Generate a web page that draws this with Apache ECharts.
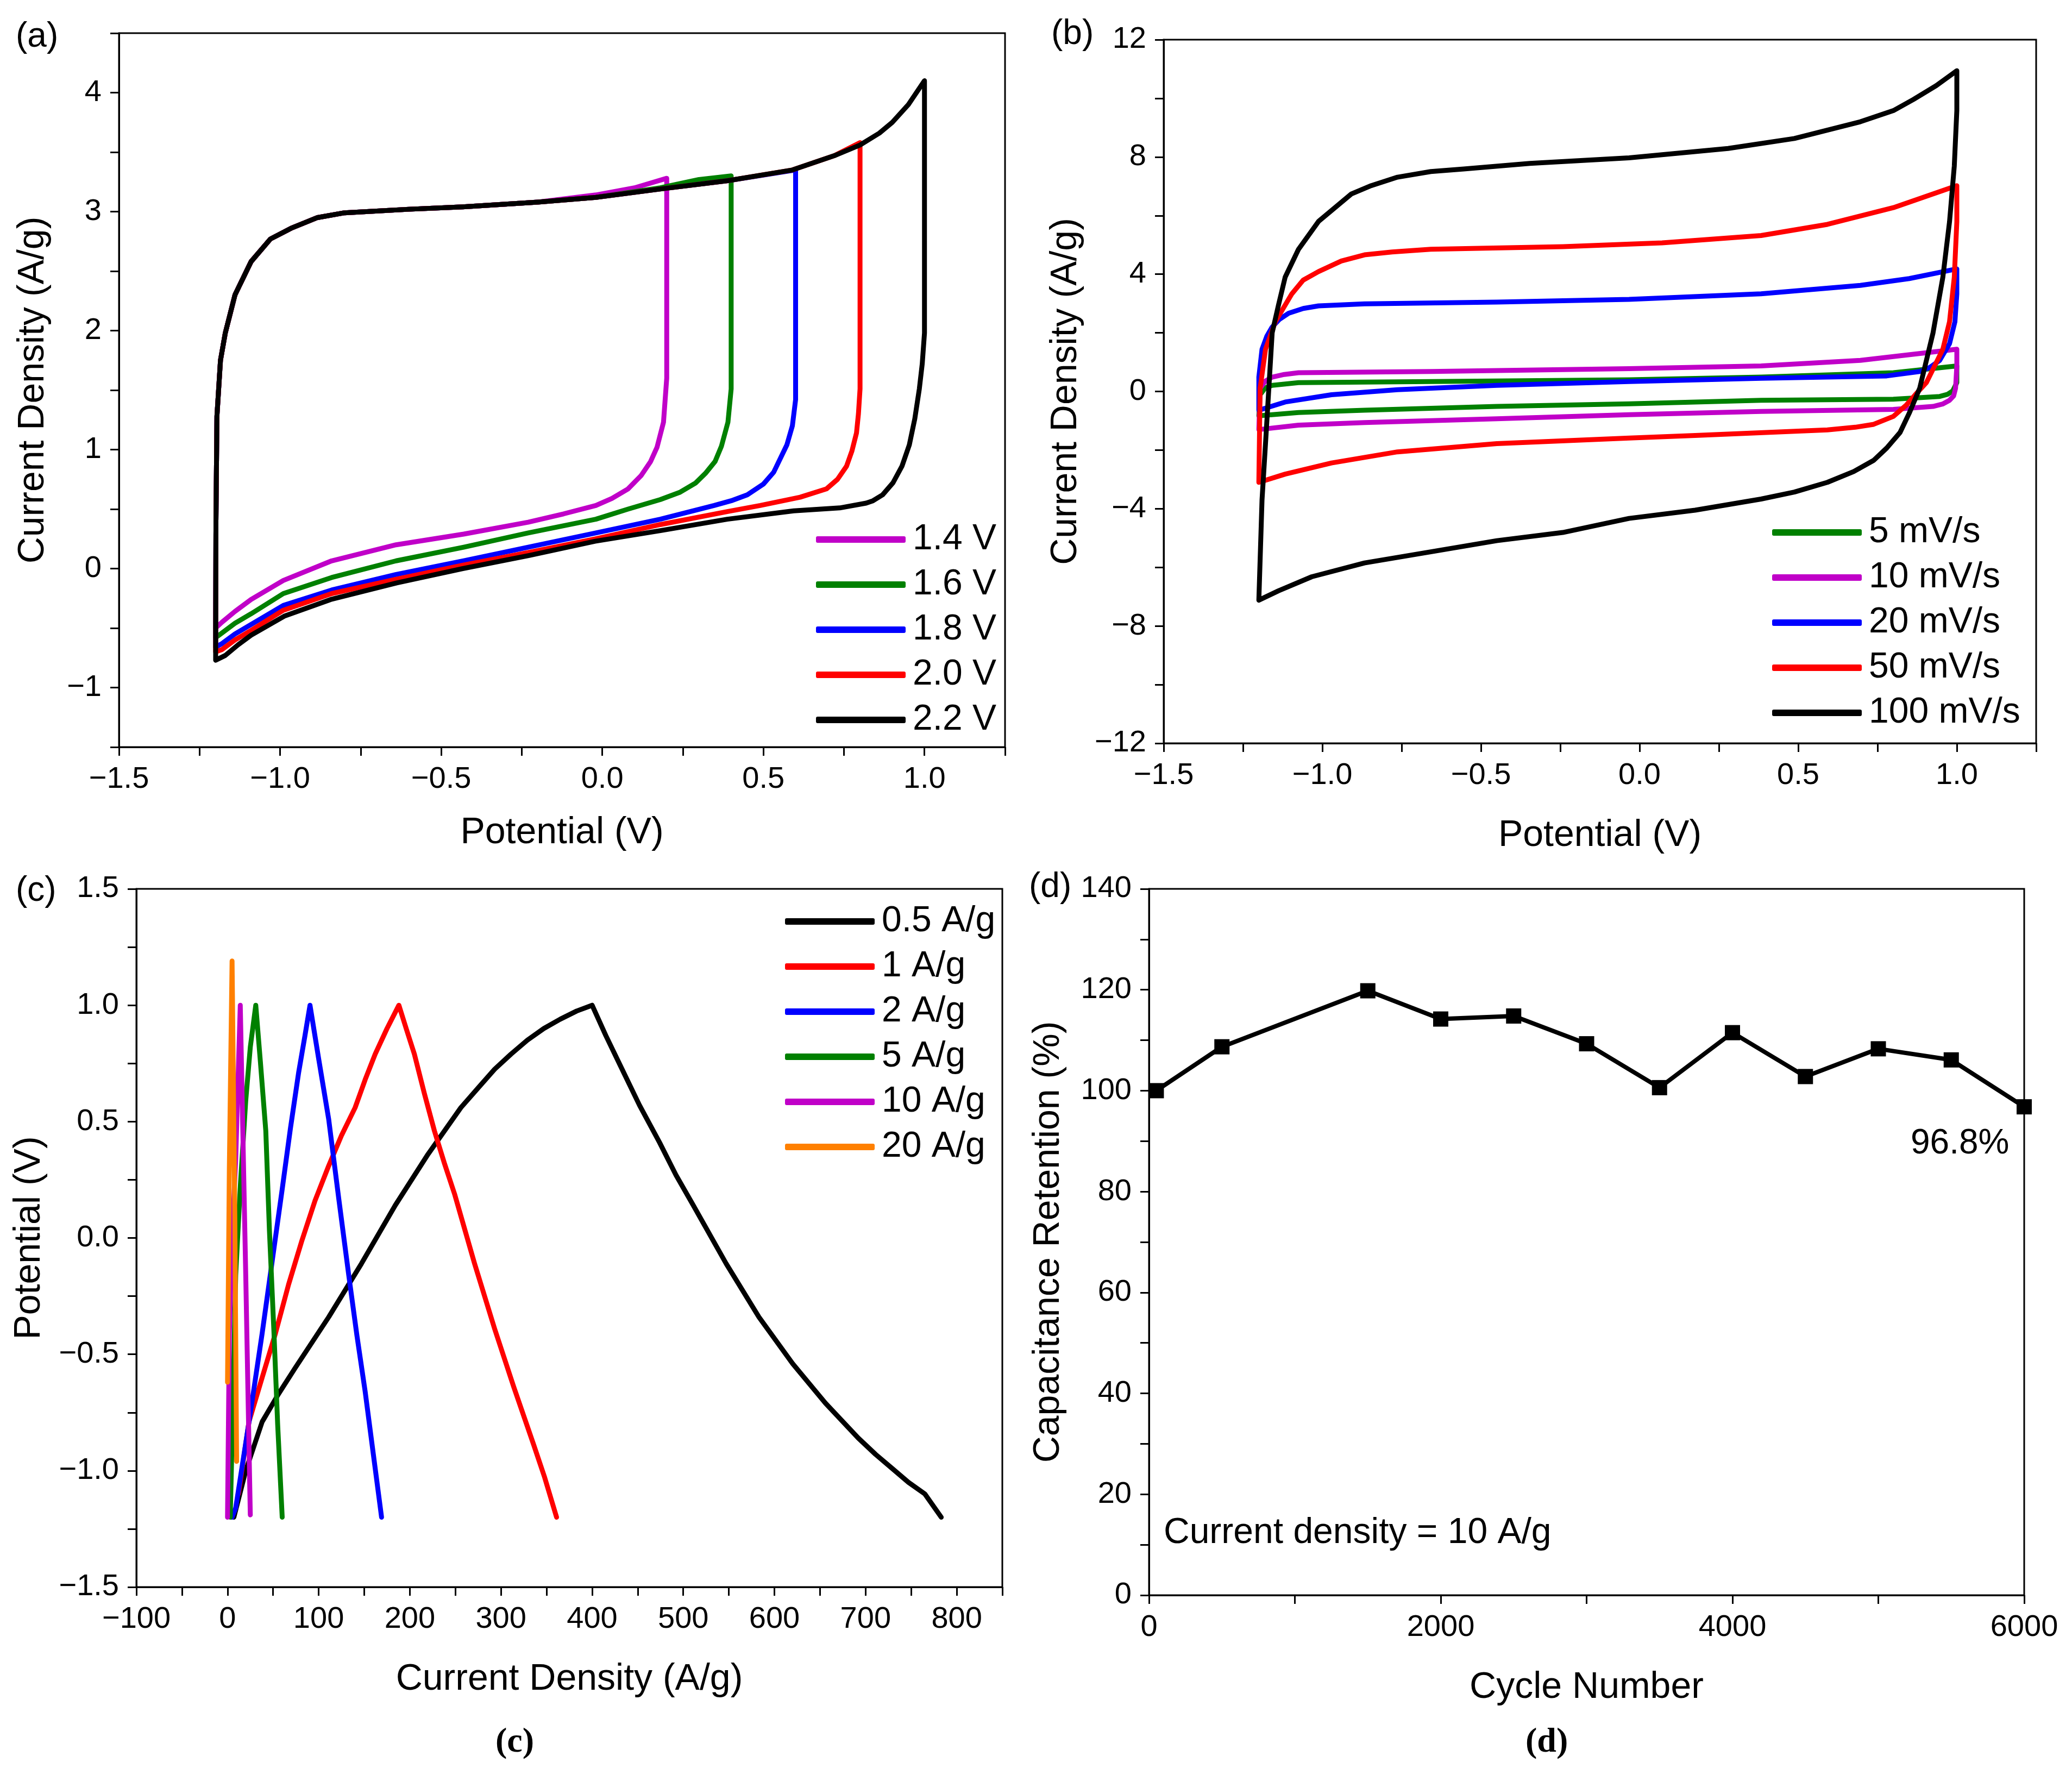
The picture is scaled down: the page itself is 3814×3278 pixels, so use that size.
<!DOCTYPE html>
<html>
<head>
    <meta charset="utf-8">
    <title>supercapacitor</title>
    <script src="https://cdn.jsdelivr.net/npm/echarts@6/dist/echarts.min.js"></script>
    <style>
        html, body { margin: 0; padding: 0; background: #fff; }
    </style>
</head>
<body>
    <div id="main" style="width: 3814px;height:3278px;"></div>
    <script type="text/javascript">
        var myChart = echarts.init(document.getElementById('main'));

        /*--------------------- (a) CV at different voltage windows ---------------------*/
        var aNames = ['1.4 V', '1.6 V', '1.8 V', '2.0 V', '2.2 V'];
        var aColors = ['#c000c8', '#008000', '#0000ff', '#ff0000', '#000000'];
        var a14 = [[-1.2, -0.5], [-1.199, 0.4], [-1.196, 1.28], [-1.185, 1.75], [-1.17, 1.98], [-1.14, 2.3], [-1.09, 2.58], [-1.03, 2.77], [-0.966, 2.86], [-0.884, 2.95], [-0.8, 2.99], [-0.6, 3.02], [-0.433, 3.04], [-0.2, 3.08], [-0.02, 3.14], [0.1, 3.2], [0.2, 3.28],
            [0.2, 2.5], [0.2, 1.6], [0.19, 1.23], [0.17, 1.02], [0.15, 0.9], [0.12, 0.78], [0.08, 0.67], [0.03, 0.59], [-0.02, 0.53], [-0.12, 0.46], [-0.23, 0.39], [-0.43, 0.29], [-0.64, 0.2], [-0.84, 0.065], [-0.99, -0.1], [-1.09, -0.26], [-1.14, -0.36], [-1.18, -0.45], [-1.2, -0.5]];
        var a16 = [[-1.2, -0.58], [-1.199, 0.4], [-1.196, 1.28], [-1.185, 1.75], [-1.17, 1.98], [-1.14, 2.3], [-1.09, 2.58], [-1.03, 2.77], [-0.966, 2.86], [-0.884, 2.95], [-0.8, 2.99], [-0.6, 3.02], [-0.433, 3.04], [-0.2, 3.08], [-0.02, 3.12], [0.18, 3.2], [0.3, 3.27], [0.4, 3.3],
            [0.4, 2.4], [0.4, 1.51], [0.39, 1.23], [0.37, 1.03], [0.35, 0.9], [0.32, 0.8], [0.29, 0.72], [0.24, 0.64], [0.18, 0.58], [0.08, 0.5], [-0.02, 0.415], [-0.23, 0.3], [-0.43, 0.18], [-0.64, 0.065], [-0.84, -0.075], [-0.99, -0.21], [-1.09, -0.38], [-1.14, -0.46], [-1.18, -0.54], [-1.2, -0.58]];
        var a18 = [[-1.2, -0.66], [-1.199, 0.4], [-1.196, 1.28], [-1.185, 1.75], [-1.17, 1.98], [-1.14, 2.3], [-1.09, 2.58], [-1.03, 2.77], [-0.966, 2.86], [-0.884, 2.95], [-0.8, 2.99], [-0.6, 3.02], [-0.433, 3.04], [-0.2, 3.08], [-0.02, 3.12], [0.18, 3.19], [0.39, 3.26], [0.6, 3.35],
            [0.6, 2.4], [0.6, 1.42], [0.59, 1.2], [0.573, 1.04], [0.532, 0.81], [0.5, 0.71], [0.45, 0.62], [0.4, 0.57], [0.347, 0.53], [0.18, 0.415], [-0.02, 0.3], [-0.23, 0.18], [-0.43, 0.065], [-0.64, -0.05], [-0.84, -0.18], [-0.99, -0.31], [-1.09, -0.47], [-1.14, -0.55], [-1.18, -0.63], [-1.2, -0.66]];
        var a20 = [[-1.2, -0.7], [-1.199, 0.4], [-1.196, 1.28], [-1.185, 1.75], [-1.17, 1.98], [-1.14, 2.3], [-1.09, 2.58], [-1.03, 2.77], [-0.966, 2.86], [-0.884, 2.95], [-0.8, 2.99], [-0.6, 3.02], [-0.433, 3.04], [-0.2, 3.08], [-0.02, 3.12], [0.18, 3.19], [0.39, 3.26], [0.59, 3.35], [0.72, 3.47], [0.8, 3.58],
            [0.8, 2.5], [0.8, 1.51], [0.795, 1.3], [0.789, 1.14], [0.775, 0.99], [0.758, 0.86], [0.73, 0.75], [0.696, 0.67], [0.614, 0.6], [0.49, 0.53], [0.39, 0.48], [0.18, 0.37], [-0.02, 0.25], [-0.23, 0.135], [-0.43, 0.03], [-0.64, -0.09], [-0.84, -0.21], [-0.99, -0.35], [-1.09, -0.52], [-1.14, -0.6], [-1.18, -0.68], [-1.2, -0.7]];
        var a22 = [[-1.2, -0.77], [-1.199, 0.4], [-1.196, 1.28], [-1.185, 1.75], [-1.17, 1.98], [-1.14, 2.3], [-1.09, 2.58], [-1.03, 2.77], [-0.966, 2.86], [-0.884, 2.95], [-0.8, 2.99], [-0.6, 3.02], [-0.433, 3.04], [-0.2, 3.08], [-0.02, 3.12], [0.18, 3.19], [0.39, 3.26], [0.59, 3.35], [0.72, 3.47], [0.8, 3.56], [0.86, 3.66], [0.9, 3.75], [0.95, 3.9], [1.0, 4.1],
            [1.0, 3.0], [1.0, 1.98], [0.993, 1.72], [0.984, 1.51], [0.97, 1.26], [0.953, 1.04], [0.93, 0.86], [0.902, 0.72], [0.87, 0.62], [0.84, 0.57], [0.819, 0.55], [0.737, 0.51], [0.594, 0.485], [0.388, 0.415], [0.183, 0.32], [-0.022, 0.23], [-0.227, 0.11], [-0.433, 0.0], [-0.638, -0.12], [-0.843, -0.26], [-0.987, -0.4], [-1.09, -0.56], [-1.13, -0.64], [-1.17, -0.73], [-1.2, -0.77]];
        var aData = [a14, a16, a18, a20, a22];

        /*--------------------- (b) CV at different scan rates ---------------------*/
        var bNames = ['5 mV/s', '10 mV/s', '20 mV/s', '50 mV/s', '100 mV/s'];
        var bColors = ['#008000', '#c000c8', '#0000ff', '#ff0000', '#000000'];
        var b5 = [[-1.2, -0.83], [-1.196, -0.11], [-1.18, 0.12], [-1.158, 0.21], [-1.075, 0.3], [-0.658, 0.34], [-0.033, 0.4], [0.383, 0.49], [0.8, 0.64], [1.0, 0.87],
            [1.0, 0.3], [0.987, 0.02], [0.97, -0.1], [0.946, -0.17], [0.8, -0.265], [0.383, -0.3], [-0.033, -0.42], [-0.45, -0.51], [-0.867, -0.64], [-1.075, -0.72], [-1.2, -0.83]];
        var b10 = [[-1.2, -1.3], [-1.196, 0.11], [-1.18, 0.35], [-1.158, 0.49], [-1.12, 0.58], [-1.075, 0.64], [-0.658, 0.68], [-0.033, 0.78], [0.383, 0.87], [0.696, 1.06], [1.0, 1.44],
            [1.0, 0.87], [0.996, 0.11], [0.99, -0.15], [0.977, -0.3], [0.955, -0.43], [0.925, -0.51], [0.8, -0.61], [0.383, -0.68], [-0.033, -0.79], [-0.45, -0.93], [-0.867, -1.06], [-1.075, -1.15], [-1.2, -1.3]];
        var b20 = [[-1.2, -0.64], [-1.2, 0.49], [-1.19, 1.44], [-1.175, 1.88], [-1.158, 2.2], [-1.135, 2.46], [-1.106, 2.67], [-1.06, 2.83], [-1.012, 2.92], [-0.867, 2.99], [-0.45, 3.05], [-0.033, 3.14], [0.383, 3.33], [0.696, 3.62], [0.85, 3.85], [1.0, 4.18],
            [1.0, 3.33], [0.994, 2.38], [0.977, 1.63], [0.946, 1.06], [0.915, 0.82], [0.883, 0.68], [0.779, 0.53], [0.383, 0.45], [-0.033, 0.34], [-0.45, 0.21], [-0.763, 0.06], [-0.971, -0.11], [-1.117, -0.36], [-1.2, -0.64]];
        var b50 = [[-1.2, -3.1], [-1.196, 0.11], [-1.179, 1.44], [-1.148, 2.38], [-1.096, 3.33], [-1.06, 3.8], [-1.012, 4.09], [-0.94, 4.45], [-0.867, 4.66], [-0.78, 4.76], [-0.658, 4.85], [-0.242, 4.94], [0.071, 5.07], [0.383, 5.32], [0.592, 5.7], [0.8, 6.27], [1.0, 7.02],
            [1.0, 5.79], [0.992, 3.9], [0.977, 2.38], [0.956, 1.44], [0.904, 0.3], [0.87, -0.1], [0.842, -0.45], [0.8, -0.85], [0.738, -1.12], [0.68, -1.22], [0.592, -1.31], [0.175, -1.5], [-0.033, -1.59], [-0.45, -1.78], [-0.763, -2.06], [-0.971, -2.44], [-1.117, -2.82], [-1.2, -3.1]];
        var b100 = [[-1.2, -7.12], [-1.19, -3.7], [-1.179, -1.78], [-1.158, 2.0], [-1.138, 2.95], [-1.117, 3.9], [-1.075, 4.85], [-1.012, 5.8], [-0.971, 6.17], [-0.908, 6.74], [-0.846, 7.02], [-0.763, 7.31], [-0.658, 7.5], [-0.554, 7.59], [-0.346, 7.78], [-0.033, 7.97], [0.279, 8.29], [0.488, 8.63], [0.696, 9.2], [0.8, 9.58], [0.863, 9.96], [0.935, 10.43], [1.0, 10.94],
            [1.0, 9.58], [0.992, 7.69], [0.977, 5.79], [0.956, 3.9], [0.925, 2.0], [0.883, 0.11], [0.85, -0.74], [0.821, -1.4], [0.779, -1.93], [0.738, -2.35], [0.675, -2.73], [0.592, -3.1], [0.488, -3.43], [0.383, -3.67], [0.175, -4.05], [-0.033, -4.33], [-0.242, -4.81], [-0.45, -5.09], [-0.658, -5.47], [-0.867, -5.85], [-1.033, -6.32], [-1.138, -6.8], [-1.2, -7.12]];
        var bData = [b5, b10, b20, b50, b100];

        /*--------------------- (c) GCD curves ---------------------*/
        var cNames = ['0.5 A/g', '1 A/g', '2 A/g', '5 A/g', '10 A/g', '20 A/g'];
        var cColors = ['#000000', '#ff0000', '#0000ff', '#008000', '#c000c8', '#ff8000'];
        var c05 = [[7, -1.2], [20, -1.0], [38, -0.79], [56, -0.67], [74, -0.56], [111, -0.34], [147, -0.11], [184, 0.14], [220, 0.36], [256, 0.56], [275, 0.645], [293, 0.725], [311, 0.79], [329, 0.85], [347, 0.9], [365, 0.94], [383, 0.975], [400, 1.0],
            [415, 0.87], [431, 0.74], [452, 0.57], [474, 0.41], [492, 0.27], [511, 0.14], [547, -0.11], [583, -0.34], [620, -0.54], [656, -0.71], [692, -0.86], [711, -0.93], [729, -0.99], [747, -1.05], [765, -1.1], [783, -1.2]];
        var c1 = [[12, -1.1], [23.5, -0.79], [38, -0.6], [52.6, -0.41], [67, -0.2], [81.7, -0.01], [96, 0.16], [111, 0.31], [125, 0.44], [140, 0.56], [151, 0.68], [162, 0.79], [175, 0.9], [188, 1.0],
            [196, 0.9], [205, 0.79], [216, 0.62], [227, 0.46], [238, 0.32], [249, 0.19], [271, -0.11], [293, -0.39], [314, -0.64], [336, -0.89], [348, -1.03], [361, -1.2]];
        var c2 = [[5, -1.2], [9, -1.16], [24, -0.78], [38, -0.41], [49, -0.1], [60, 0.21], [69, 0.47], [78, 0.71], [85, 0.87], [90.5, 1.0],
            [100, 0.77], [111, 0.51], [122, 0.17], [133, -0.16], [142, -0.42], [151, -0.66], [160, -0.93], [169, -1.2]];
        var c5 = [[3, -1.2], [6, -0.7], [9, -0.16], [14, 0.22], [20, 0.59], [25, 0.82], [31, 1.0], [36, 0.76], [42, 0.46], [46, 0.03], [51, -0.41], [55, -0.8], [60, -1.2]];
        var c10 = [[0, -1.2], [2, -0.41], [5, 0.0], [9, 0.34], [14, 1.0], [17, 0.42], [20, -0.16], [25, -1.19]];
        var c20 = [[0, -0.62], [2, 0.3], [5, 1.19], [8, 0.1], [10, -0.96]];
        var cData = [c05, c1, c2, c5, c10, c20];

        /*--------------------- (d) cycling stability ---------------------*/
        var dCycles = [50, 500, 1500, 2000, 2500, 3000, 3500, 4000, 4500, 5000, 5500, 6000];
        var dRetention = [100, 108.7, 119.8, 114.2, 114.8, 109.3, 100.6, 111.5, 102.8, 108.3, 106.1, 96.8];

        /*--------------------- 样式 ---------------------*/
        var font = "'Liberation Sans', Arial, sans-serif";

        function fmt(step, dec) {
            return function (v) {
                var r = Math.round(v / step);
                if (Math.abs(v - r * step) > 1e-6) return '';
                return (r * step).toFixed(dec).replace('-', '\u2212');
            };
        }

        function axis(idx, pos, min, max, interval, labelStep, dec, name, gap) {
            return {
                type: 'value',
                gridIndex: idx,
                position: pos,
                min: min,
                max: max,
                interval: interval,
                name: name,
                nameLocation: 'middle',
                nameGap: gap,
                nameTextStyle: { color: '#000', fontSize: 68, fontFamily: font },
                axisLine: { onZero: false, lineStyle: { color: '#000', width: 3 } },
                axisTick: { show: true, inside: false, length: 16, lineStyle: { color: '#000', width: 3 } },
                axisLabel: { color: '#000', fontSize: 56, fontFamily: font, margin: 32, formatter: fmt(labelStep, dec) },
                splitLine: { show: false }
            };
        }

        function legend(names, left, top) {
            return {
                data: names,
                orient: 'vertical',
                left: left,
                top: top,
                icon: 'roundRect',
                itemWidth: 165,
                itemHeight: 12,
                itemGap: 17,
                textStyle: { color: '#000', fontSize: 66, fontFamily: font, padding: [0, 0, 0, 8] }
            };
        }

        var series = [];
        function addLines(names, colors, data, idx) {
            for (var i = 0; i < names.length; i++) {
                series.push({
                    name: names[i],
                    type: 'line',
                    xAxisIndex: idx,
                    yAxisIndex: idx,
                    showSymbol: false,
                    symbol: 'none',
                    color: colors[i],
                    lineStyle: { width: 9, color: colors[i], join: 'round', cap: 'round' },
                    data: data[i]
                });
            }
        }
        addLines(aNames, aColors, aData, 0);
        addLines(bNames, bColors, bData, 1);
        addLines(cNames, cColors, cData, 2);
        series.push({
            name: 'retention',
            type: 'line',
            xAxisIndex: 3,
            yAxisIndex: 3,
            symbol: 'rect',
            symbolSize: 28,
            color: '#000',
            lineStyle: { width: 8, color: '#000' },
            data: dCycles.map(function (c, i) { return [c, dRetention[i]]; })
        });

        function label(text, x, y, size, extra) {
            var s = { text: text, fontSize: size || 64, fontFamily: font, fill: '#000', textAlign: 'left', textVerticalAlign: 'middle' };
            if (extra) for (var k in extra) s[k] = extra[k];
            return { type: 'text', left: x, top: y, style: s };
        }

        var box = { show: true, borderColor: '#000', borderWidth: 3, backgroundColor: 'transparent' };

        var option = {
            backgroundColor: '#fff',
            animation: false,
            grid: [
                Object.assign({ left: 219, top: 61, width: 1631, height: 1314 }, box),
                Object.assign({ left: 2142, top: 73, width: 1606, height: 1295 }, box),
                Object.assign({ left: 251, top: 1636, width: 1594, height: 1285 }, box),
                Object.assign({ left: 2115, top: 1636, width: 1611, height: 1300 }, box)
            ],
            xAxis: [
                axis(0, 'bottom', -1.5, 1.25, 0.25, 0.5, 1, 'Potential (V)', 124),
                axis(1, 'bottom', -1.5, 1.25, 0.25, 0.5, 1, 'Potential (V)', 136),
                axis(2, 'bottom', -100, 850, 50, 100, 0, 'Current Density (A/g)', 136),
                axis(3, 'bottom', 0, 6000, 1000, 2000, 0, 'Cycle Number', 136)
            ],
            yAxis: [
                axis(0, 'left', -1.5, 4.5, 0.5, 1, 0, 'Current Density (A/g)', 124),
                axis(1, 'left', -12, 12, 2, 4, 0, 'Current Density (A/g)', 146),
                axis(2, 'left', -1.5, 1.5, 0.25, 0.5, 1, 'Potential (V)', 163),
                axis(3, 'left', 0, 140, 10, 20, 0, 'Capacitance Retention (%)', 151)
            ],
            legend: [
                legend(aNames, 1497, 955),
                legend(bNames, 3257, 942),
                legend(cNames, 1440, 1658)
            ],
            graphic: [
                label('(a)', 29, 36),
                label('(b)', 1935, 31),
                label('(c)', 29, 1608),
                label('(d)', 1894, 1601),
                label('96.8%', 3517, 2073, 64),
                label('Current density = 10 A/g', 2142, 2789, 66),
                label('(c)', 912, 3175, 64, { fontFamily: "'Liberation Serif', 'Times New Roman', serif", fontWeight: 'bold' }),
                label('(d)', 2808, 3175, 64, { fontFamily: "'Liberation Serif', 'Times New Roman', serif", fontWeight: 'bold' })
            ],
            series: series
        };
        myChart.setOption(option);
    </script>
</body>
</html>
